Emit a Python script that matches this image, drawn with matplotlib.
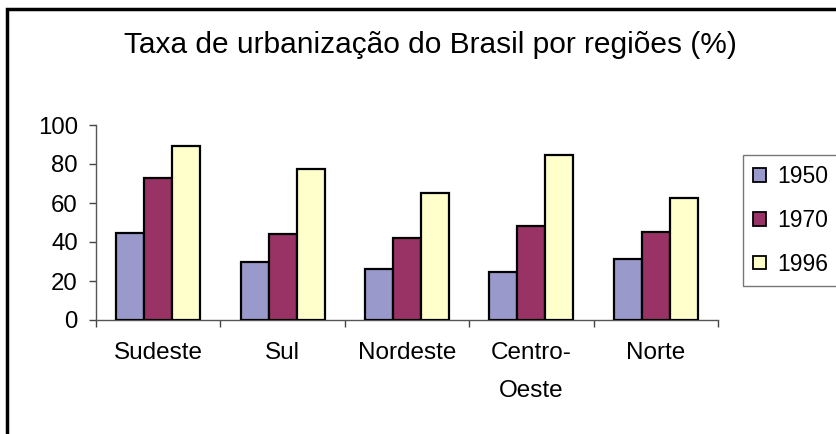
import matplotlib.pyplot as plt
import numpy as np
from matplotlib.patches import Rectangle

plt.rcParams['font.family'] = ['Liberation Sans', 'DejaVu Sans']

regioes = ['Sudeste', 'Sul', 'Nordeste', 'Centro-\nOeste', 'Norte']
anos = ['1950', '1970', '1996']
v1950 = [44.5, 29.5, 26.4, 24.4, 31.5]
v1970 = [72.7, 44.3, 41.8, 48.0, 45.1]
v1996 = [89.3, 77.2, 65.2, 84.4, 62.4]
cores = ['#9999CC', '#993366', '#FFFFCC']

W, H = 836, 434
fig = plt.figure(figsize=(W / 100, H / 100), dpi=100)
ax = fig.add_axes([96 / W, 1 - 320 / H, (718 - 96) / W, (320 - 125) / H])

x = np.arange(len(regioes))
bw = 0.225
for i, (vals, lab) in enumerate(zip([v1950, v1970, v1996], anos)):
    ax.bar(x + (i - 1) * bw, vals, bw, color=cores[i], edgecolor='black',
           linewidth=1.6, label=lab, zorder=3)

ax.set_xlim(-0.5, len(regioes) - 0.5)
ax.set_ylim(0, 100)
ax.set_yticks(range(0, 101, 20))
ax.set_xticks(np.arange(-0.5, len(regioes), 1.0))
ax.set_xticklabels([])
ax.set_xticks(x, minor=True)
ax.set_xticklabels(regioes, minor=True)
ax.tick_params(axis='x', which='minor', length=0, pad=16, labelsize=17.5)
ax.tick_params(axis='x', which='major', length=5, color='#444444', width=1)
ax.tick_params(axis='y', length=5, pad=8, labelsize=17.3, color='#444444', width=1)
for s in ['top', 'right']:
    ax.spines[s].set_visible(False)
for s in ['left', 'bottom']:
    ax.spines[s].set_color('#555555')
    ax.spines[s].set_linewidth(1)
for lbl in ax.get_xticklabels(minor=True):
    lbl.set_verticalalignment('top')
    lbl.set_linespacing(1.95)

fig.text(430 / W, 1 - 45 / H, 'Taxa de urbanização do Brasil por regiões (%)',
         ha='center', va='center', fontsize=21.5)

leg = fig.legend(loc='upper left', bbox_to_anchor=(743 / W, 1 - 155 / H),
                 fontsize=16.5, frameon=True, fancybox=False, shadow=False,
                 handlelength=0.55, handleheight=0.55, handletextpad=0.5,
                 labelspacing=0.9, borderpad=0.45, borderaxespad=0)
leg.get_frame().set_edgecolor('#555555')
leg.get_frame().set_linewidth(1)
for p in leg.get_patches():
    p.set_linewidth(1.3)

# moldura do gráfico
fig.patches.append(Rectangle((7 / W, -0.1), 1.2, 1 - 9 / H + 0.1, transform=fig.transFigure,
                             fill=False, edgecolor='black', linewidth=2.5))

fig.savefig('out.png', dpi=100)
